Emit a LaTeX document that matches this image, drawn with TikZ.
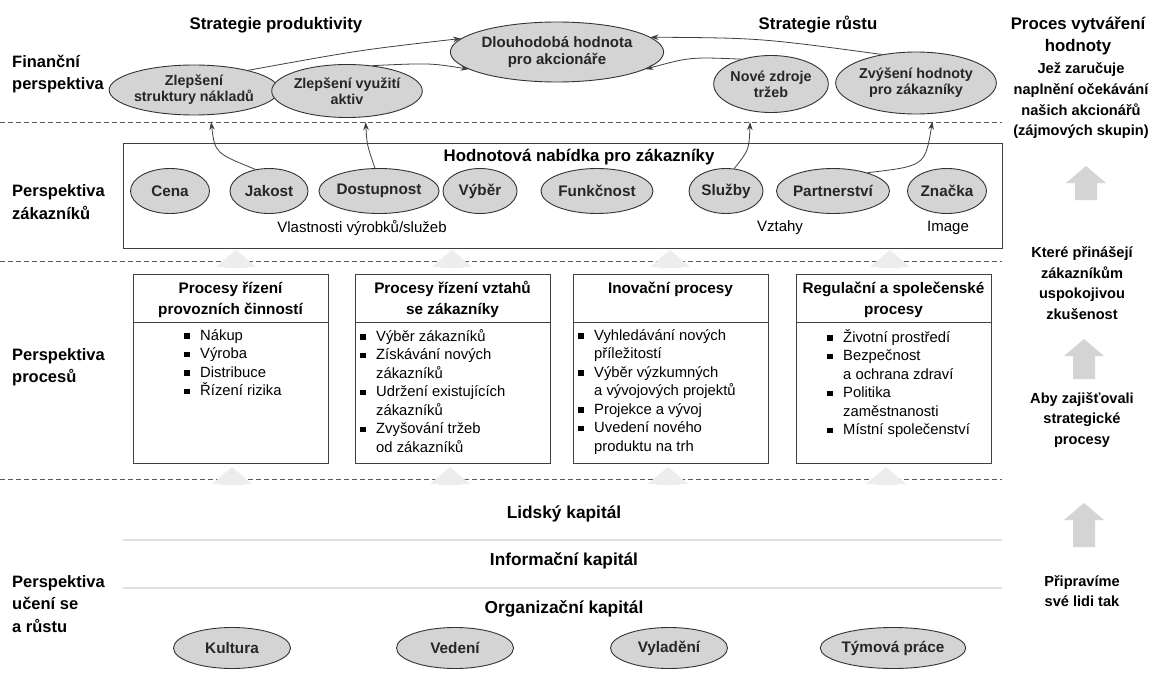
\documentclass[tikz,border=0pt]{standalone}
\usepackage{fontspec}
\setmainfont{Liberation Sans}
\usetikzlibrary{shapes.geometric,arrows.meta}
\newcommand{\sqbul}{\makebox[16pt][l]{\raisebox{1.5pt}{\rule{5.5pt}{5.5pt}}}}
\newcommand{\itemind}{\hspace*{16pt}}
\newcommand{\fatarr}[4]{\fill[#4] ({#1-11},{#3}) -- ({#1-11},{#2+17}) -- ({#1-20},{#2+17}) -- ({#1},{#2}) -- ({#1+20},{#2+17}) -- ({#1+11},{#2+17}) -- ({#1+11},{#3}) -- cycle;}
\tikzset{
  ell/.style={ellipse, draw=black!80, line width=0.9pt, fill=black!17, inner sep=0pt,
    font=\bfseries\fontsize{14.3}{16}\selectfont, align=center, text=black!85},
  cell/.style={ell, minimum height=45pt, font=\bfseries\fontsize{15.3}{17}\selectfont},
  bell/.style={ell, minimum height=41pt, minimum width=117pt, font=\bfseries\fontsize{15.3}{17}\selectfont},
  side/.style={font=\bfseries\fontsize{16.5}{22.5}\selectfont, align=left, anchor=west, inner sep=0pt},
  head/.style={font=\bfseries\fontsize{16.8}{22}\selectfont, align=center, inner sep=0pt},
  rcol/.style={font=\bfseries\fontsize{14.6}{20.7}\selectfont, align=center, inner sep=0pt},
  phead/.style={font=\bfseries\fontsize{15.3}{21}\selectfont, align=center, inner sep=0pt},
  plist/.style={font=\fontsize{14.8}{18.5}\selectfont, align=left, anchor=north west, inner sep=0pt},
  captext/.style={font=\bfseries\fontsize{17.3}{20}\selectfont, inner sep=0pt},
  plain/.style={font=\fontsize{15}{18}\selectfont, inner sep=0pt},
  sep/.style={draw=black!65, line width=1pt, dash pattern=on 5pt off 3pt},
  conn/.style={draw=black!75, line width=0.8pt, -{Stealth[length=8pt,width=5.5pt]}},
  box/.style={draw=black!75, line width=0.9pt},
}
\begin{document}
\begin{tikzpicture}[x=1pt,y=-1pt]
\useasboundingbox (0,0) rectangle (1157,677);
\fill[white] (0,0) rectangle (1157,677);

% separators
\draw[sep] (0,122) -- (1002,122);
\draw[sep] (0,261) -- (1002,261);
\draw[sep] (0,479) -- (1002,479);

% faint arrows on separators
\foreach \xx in {236,452,670,890} {\fatarr{\xx}{250}{268}{black!7}}
\foreach \xx in {232,450,668,886} {\fatarr{\xx}{467}{485}{black!7}}

% headings
\node[head] (hprod) at (276,25) {Strategie produktivity};
\node[head] (hrust) at (818,25) {Strategie růstu};
\node[head] (hproc) at (1078,36) {Proces vytváření\\hodnoty};

% left labels
\node[side] (lfin) at (12,74) {Finanční\\perspektiva};
\node[side] (lzak) at (12,202) {Perspektiva\\zákazníků};
\node[side] (lpro) at (12,367) {Perspektiva\\procesů};
\node[side] (luc) at (12,604) {Perspektiva\\učení se\\a růstu};

% right column
\node[rcol] (r1) at (1081,101) {Jež zaručuje\\naplnění očekávání\\našich akcionářů\\(zájmových skupin)};
\node[rcol] (r2) at (1082,283) {Které přinášejí\\zákazníkům\\uspokojivou\\zkušenost};
\node[rcol] (r3) at (1082,420) {Aby zajišťovali\\strategické\\procesy};
\node[rcol] (r4) at (1082,591) {Připravíme\\své lidi tak};
\fatarr{1086}{166}{200}{black!17}
\fatarr{1084}{339}{379}{black!17}
\fatarr{1084}{503}{547}{black!17}

% financial perspective
\node[ell, minimum width=183pt, minimum height=60pt, font=\bfseries\fontsize{15}{16.5}\selectfont] (dlouh) at (557,52) {Dlouhodobá hodnota\\pro akcionáře};
\node[ell, minimum width=140pt, minimum height=50pt] (zsn) at (194,90) {Zlepšení\\struktury nákladů};
\node[ell, minimum width=134pt, minimum height=53pt] (zva) at (347,91) {Zlepšení využití\\aktiv};
\node[ell, minimum width=114pt, minimum height=57pt] (nzt) at (771,84) {Nové zdroje\\tržeb};
\node[ell, minimum width=132pt, minimum height=62pt] (zhz) at (916,83) {Zvýšení hodnoty\\pro zákazníky};

\draw[conn] (zsn.20) .. controls (360,50) .. (dlouh.172);
\draw[conn] (zva.45) .. controls (430,63) .. (dlouh.191);
\draw[conn] (nzt.140) .. controls (690,57) .. (dlouh.349);
\draw[conn] (zhz.140) .. controls (760,38) .. (dlouh.9);

% customer perspective
\draw[box] (123,143) rectangle (1002,248);
\node[captext, font=\bfseries\fontsize{16.8}{18}\selectfont] (hnab) at (579,157) {Hodnotová nabídka pro zákazníky};
\node[cell, minimum width=79pt] (cena) at (170,191) {Cena};
\node[cell, minimum width=78pt] (jak) at (269,191) {Jakost};
\node[cell, minimum width=92pt] (dost) at (379,191) {Dostupnost};
\node[cell, minimum width=74pt] (vyb) at (480,191) {Výběr};
\node[cell, minimum width=112pt] (fun) at (597,191) {Funkčnost};
\node[cell, minimum width=74pt] (slu) at (726,191) {Služby};
\node[cell, minimum width=92pt] (par) at (833,191) {Partnerství};
\node[cell, minimum width=79pt] (zna) at (947,191) {Značka};
\node[plain] (vlast) at (362,228) {Vlastnosti výrobků/služeb};
\node[plain] (vzt) at (780,228) {Vztahy};
\node[plain] (img) at (948,228) {Image};

\draw[conn, shorten >=7pt] (jak.122) .. controls (215,153) .. (zsn.-57);
\draw[conn, shorten >=5pt] (dost.100) .. controls (367,145) .. (zva.-55);
\draw[conn, shorten >=11pt] (slu.70) .. controls (749,150) .. (nzt.-127);
\draw[conn, shorten >=8pt] (par.28) .. controls (925,166) .. (zhz.-60);

% process perspective
\foreach \a/\b in {133/328,355/550,573/768,796/991} {
  \draw[box] (\a,274) rectangle (\b,463);
  \draw[box] (\a,322) -- (\b,322);
}
\node[phead] (p1) at (230.5,299.5) {Procesy řízení\\provozních činností};
\node[phead] (p2) at (452.5,299.5) {Procesy řízení vztahů\\se zákazníky};
\node[phead] (p3) at (670.5,289) {Inovační procesy};
\node[phead] (p4) at (893.5,299.5) {Regulační a společenské\\procesy};

\node[plist] (l1) at (184,329) {\sqbul Nákup\\\sqbul Výroba\\\sqbul Distribuce\\\sqbul Řízení rizika};
\node[plist] (l2) at (360,329) {\sqbul Výběr zákazníků\\\sqbul Získávání nových\\\itemind zákazníků\\\sqbul Udržení existujících\\\itemind zákazníků\\\sqbul Zvyšování tržeb\\\itemind od zákazníků};
\node[plist] (l3) at (578,329) {\sqbul Vyhledávání nových\\\itemind příležitostí\\\sqbul Výběr výzkumných\\\itemind a vývojových projektů\\\sqbul Projekce a vývoj\\\sqbul Uvedení nového\\\itemind produktu na trh};
\node[plist] (l4) at (827,329) {\sqbul Životní prostředí\\\sqbul Bezpečnost\\\itemind a ochrana zdraví\\\sqbul Politika\\\itemind zaměstnanosti\\\sqbul Místní společenství};

% learning and growth
\draw[black!12, line width=1.5pt] (123,540) -- (1002,540);
\draw[black!12, line width=1.5pt] (123,588) -- (1002,588);
\node[captext] (lk) at (564,514) {Lidský kapitál};
\node[captext] (ik) at (564,561) {Informační kapitál};
\node[captext] (ok) at (564,609) {Organizační kapitál};
\node[bell] (kul) at (232,648) {Kultura};
\node[bell] (ved) at (455,648) {Vedení};
\node[bell] (vyl) at (669,648) {Vyladění};
\node[bell] (tym) at (893,648) {Týmová práce};
\end{tikzpicture}
\end{document}
